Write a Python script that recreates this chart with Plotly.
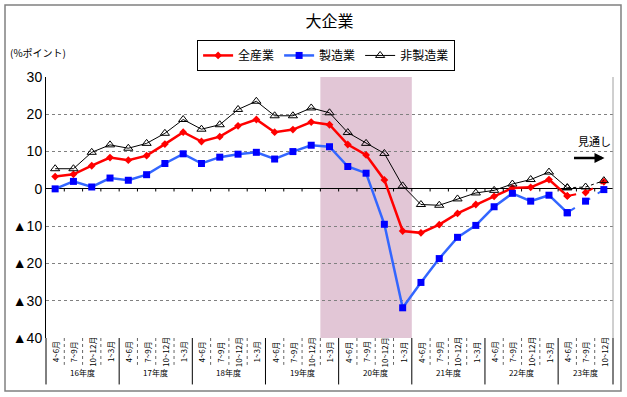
import plotly.graph_objects as go

quarters = ["4~6月", "7~9月", "10~12月", "1~3月"] * 7 + ["4~6月", "7~9月", "10~12月"]
years = ["16年度", "17年度", "18年度", "19年度", "20年度", "21年度", "22年度", "23年度"]
year_sizes = [4, 4, 4, 4, 4, 4, 4, 3]

all_ind = [3.3, 3.9, 6.2, 8.4, 7.7, 8.9, 12.0, 15.2, 12.7, 14.0, 16.9, 18.6, 15.2, 15.9, 17.9, 17.2,
           11.9, 9.1, 2.4, -11.3, -11.8, -9.6, -6.6, -4.2, -2.0, 0.2, 0.4, 2.5, -1.9, -1.0, 1.9]
manu = [0.0, 2.0, 0.5, 2.9, 2.3, 3.8, 6.8, 9.4, 6.8, 8.5, 9.3, 9.8, 8.0, 10.0, 11.7, 11.3,
        6.0, 4.2, -9.5, -31.9, -25.1, -18.7, -13.0, -9.8, -4.8, -1.2, -3.3, -1.7, -6.4, -3.3, -0.2]
nonmanu = [5.4, 5.4, 9.8, 11.8, 10.9, 12.2, 14.9, 18.6, 16.0, 17.2, 21.3, 23.5, 19.6, 19.6, 21.7, 20.4,
           15.1, 12.2, 9.5, 0.8, -4.2, -4.4, -2.7, -1.1, -0.4, 1.3, 2.5, 4.5, 0.3, 0.5, 2.2]

ytick_vals = [30, 20, 10, 0, -10, -20, -30, -40]
ytick_text = ["30", "20", "10", "0", "▲10", "▲20", "▲30", "▲40"]

n = len(quarters)
xs = list(range(n))
last_actual = 28  # index of last actual value; after it forecast (見通し)

JP = "Noto Sans CJK JP"
NUM = "Liberation Sans"

fig = go.Figure()

series = [
    ("全産業", all_ind, "#FF0000", 2.5, dict(symbol="diamond", size=6, color="#FF0000"), "dash"),
    ("製造業", manu, "#3366FF", 2.5, dict(symbol="square", size=7, color="#0000FF"), "dash"),
    ("非製造業", nonmanu, "#000000", 1, dict(symbol="triangle-up-open", size=8, color="#000000",
                                          line=dict(width=1, color="#000000")), "dot"),
]

for name, vals, col, w, mk, dsh in series:
    fig.add_trace(go.Scatter(
        x=xs[:last_actual + 1], y=vals[:last_actual + 1], name=name, mode="lines+markers",
        line=dict(color=col, width=w), marker=mk))
for name, vals, col, w, mk, dsh in series:
    fig.add_trace(go.Scatter(
        x=xs[last_actual:], y=vals[last_actual:], name=name, mode="lines+markers", showlegend=False,
        line=dict(color=col, width=max(1, w - 0.5), dash=dsh), marker=mk))

shapes = []
# recession shading
shapes.append(dict(type="rect", xref="x", yref="y", x0=14.5, x1=19.5, y0=-40, y1=30,
                   fillcolor="#E2C6D6", line=dict(width=0), layer="below"))
# small ticks on zero line
for k in range(1, n):
    shapes.append(dict(type="line", xref="x", yref="y", x0=k - 0.5, x1=k - 0.5, y0=0, y1=-0.7,
                       line=dict(color="#000000", width=1)))
# category separators below axis
boundaries_year = [0]
acc = 0
for s in year_sizes:
    acc += s
    boundaries_year.append(acc)
for k in range(n + 1):
    xp = k / n
    if k in boundaries_year:
        shapes.append(dict(type="line", xref="paper", yref="paper", x0=xp, x1=xp, y0=0, y1=-0.178,
                           line=dict(color="#000000", width=1)))
    else:
        shapes.append(dict(type="line", xref="paper", yref="paper", x0=xp, x1=xp, y0=0, y1=-0.103,
                           line=dict(color="#666666", width=1, dash="dot")))
# plot right border
shapes.append(dict(type="line", xref="paper", yref="paper", x0=1, x1=1, y0=0, y1=1,
                   line=dict(color="#A0A0A0", width=1)))
# outer frame
shapes.append(dict(type="rect", xref="paper", yref="paper", x0=-0.0723, x1=1.0141, y0=-0.203, y1=1.276,
                   line=dict(color="#808080", width=1.5), fillcolor="rgba(0,0,0,0)"))

annotations = []
for i, q in enumerate(quarters):
    annotations.append(dict(x=(i + 0.5) / n, y=-0.054, xref="paper", yref="paper", text=q,
                            textangle=-90, showarrow=False, font=dict(family=JP, size=8, color="#000000"),
                            xanchor="center", yanchor="middle"))
start = 0
for yname, s in zip(years, year_sizes):
    annotations.append(dict(x=(start + s / 2) / n, y=-0.134, xref="paper", yref="paper", text=yname,
                            showarrow=False, font=dict(family=JP, size=8, color="#000000"),
                            xanchor="center", yanchor="middle"))
    start += s
annotations.append(dict(x=-0.014, y=1.092, xref="paper", yref="paper", text="(%ポイント)",
                        showarrow=False, font=dict(family=JP, size=10, color="#000000"),
                        xanchor="center", yanchor="middle"))
annotations.append(dict(x=0.968, y=0.755, xref="paper", yref="paper", text="見通し",
                        showarrow=False, font=dict(family=JP, size=11, color="#000000"),
                        xanchor="center", yanchor="middle"))
annotations.append(dict(x=0.985, y=0.69, xref="paper", yref="paper", ax=-32, ay=0, text="",
                        showarrow=True, arrowhead=2, arrowsize=0.8, arrowwidth=2.5, arrowcolor="#000000"))

fig.update_layout(
    width=627, height=397,
    margin=dict(l=46, r=14, t=77, b=59),
    paper_bgcolor="#FFFFFF", plot_bgcolor="#FFFFFF",
    title=dict(text="大企業", x=0.5, xref="paper", y=0.945, yanchor="middle",
               font=dict(family=JP, size=16, color="#000000")),
    showlegend=True,
    legend=dict(orientation="h", x=0.494, y=1.142, xanchor="center", yanchor="top",
                bordercolor="#000000", borderwidth=1, bgcolor="#FFFFFF",
                font=dict(family=JP, size=12, color="#000000"), itemwidth=30,
                tracegroupgap=0),
    shapes=shapes,
    annotations=annotations,
    font=dict(family=NUM, color="#000000"),
)
fig.update_xaxes(range=[-0.5, n - 0.5], showticklabels=False, showgrid=False, zeroline=False,
                 showline=False, ticks="")
fig.update_yaxes(range=[-40, 30], tickvals=ytick_vals, ticktext=ytick_text,
                 tickfont=dict(family=NUM, size=14, color="#000000"),
                 showgrid=True, gridcolor="#808080", griddash="dot", gridwidth=1,
                 zeroline=True, zerolinecolor="#000000", zerolinewidth=1,
                 showline=True, linecolor="#000000", linewidth=1, ticks="")

fig.write_html("out.html", config={"displayModeBar": False},
               post_script="document.body.style.margin='0';")
